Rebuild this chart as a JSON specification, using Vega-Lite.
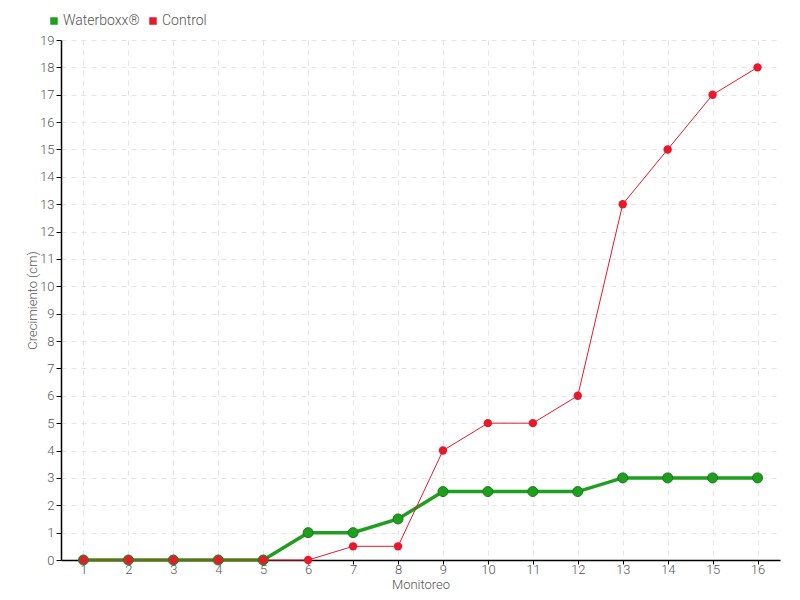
{
  "$schema": "https://vega.github.io/schema/vega-lite/v6.json",
  "width": 719,
  "height": 520,
  "autosize": {"type": "none"},
  "padding": {"left": 61, "top": 40, "right": 20, "bottom": 40},
  "background": "white",
  "config": {
    "font": "Roboto",
    "view": {"stroke": null},
    "axis": {
      "labelColor": "#555555",
      "titleColor": "#555555",
      "labelFontSize": 13,
      "titleFontSize": 13,
      "titleFontWeight": 300,
      "labelFontWeight": 300,
      "domainColor": "#000000",
      "tickColor": "#000000",
      "gridColor": "#e4e4e4",
      "gridDash": [5, 5],
      "gridWidth": 1
    }
  },
  "data": {
    "values": [
      {"m": 1, "serie": "Waterboxx®", "v": 0},
      {"m": 2, "serie": "Waterboxx®", "v": 0},
      {"m": 3, "serie": "Waterboxx®", "v": 0},
      {"m": 4, "serie": "Waterboxx®", "v": 0},
      {"m": 5, "serie": "Waterboxx®", "v": 0},
      {"m": 6, "serie": "Waterboxx®", "v": 1},
      {"m": 7, "serie": "Waterboxx®", "v": 1},
      {"m": 8, "serie": "Waterboxx®", "v": 1.5},
      {"m": 9, "serie": "Waterboxx®", "v": 2.5},
      {"m": 10, "serie": "Waterboxx®", "v": 2.5},
      {"m": 11, "serie": "Waterboxx®", "v": 2.5},
      {"m": 12, "serie": "Waterboxx®", "v": 2.5},
      {"m": 13, "serie": "Waterboxx®", "v": 3},
      {"m": 14, "serie": "Waterboxx®", "v": 3},
      {"m": 15, "serie": "Waterboxx®", "v": 3},
      {"m": 16, "serie": "Waterboxx®", "v": 3},
      {"m": 1, "serie": "Control", "v": 0},
      {"m": 2, "serie": "Control", "v": 0},
      {"m": 3, "serie": "Control", "v": 0},
      {"m": 4, "serie": "Control", "v": 0},
      {"m": 5, "serie": "Control", "v": 0},
      {"m": 6, "serie": "Control", "v": 0},
      {"m": 7, "serie": "Control", "v": 0.5},
      {"m": 8, "serie": "Control", "v": 0.5},
      {"m": 9, "serie": "Control", "v": 4},
      {"m": 10, "serie": "Control", "v": 5},
      {"m": 11, "serie": "Control", "v": 5},
      {"m": 12, "serie": "Control", "v": 6},
      {"m": 13, "serie": "Control", "v": 13},
      {"m": 14, "serie": "Control", "v": 15},
      {"m": 15, "serie": "Control", "v": 17},
      {"m": 16, "serie": "Control", "v": 18}
    ]
  },
  "encoding": {
    "x": {
      "field": "m",
      "type": "ordinal",
      "sort": null,
      "scale": {"type": "point", "padding": 0.5},
      "axis": {"title": "Monitoreo", "labelAngle": 0, "grid": true, "ticks": true, "tickSize": 4, "labelPadding": -1, "titlePadding": 2, "domainWidth": 1.5}
    },
    "y": {
      "field": "v",
      "type": "quantitative",
      "scale": {"domain": [0, 19], "nice": false},
      "axis": {"title": "Crecimiento (cm)", "values": [0,1,2,3,4,5,6,7,8,9,10,11,12,13,14,15,16,17,18,19], "grid": true, "tickSize": 5, "labelPadding": 2, "titlePadding": 0, "domainWidth": 1.5}
    },
    "color": {
      "field": "serie",
      "type": "nominal",
      "scale": {"domain": ["Waterboxx®", "Control"], "range": ["#1f9e1f", "#e8192c"]},
      "legend": {
        "title": null,
        "orient": "none",
        "legendX": -14,
        "legendY": -26,
        "direction": "horizontal",
        "symbolType": "square",
        "symbolSize": 36,
        "labelFontSize": 14,
        "labelColor": "#555555",
        "labelFontWeight": 300,
        "columnPadding": 6,
        "symbolOffset": 0,
        "labelOffset": 2
      }
    }
  },
  "layer": [
    {
      "transform": [{"filter": "datum.serie === 'Waterboxx®'"}],
      "mark": {"type": "line", "strokeWidth": 3.5}
    },
    {
      "transform": [{"filter": "datum.serie === 'Waterboxx®'"}],
      "mark": {"type": "point", "filled": true, "size": 100, "opacity": 1, "stroke": "#1a7a1a", "strokeWidth": 1}
    },
    {
      "transform": [{"filter": "datum.serie === 'Control'"}],
      "mark": {"type": "line", "strokeWidth": 1}
    },
    {
      "transform": [{"filter": "datum.serie === 'Control'"}],
      "mark": {"type": "point", "filled": true, "size": 70, "opacity": 1}
    }
  ]
}
